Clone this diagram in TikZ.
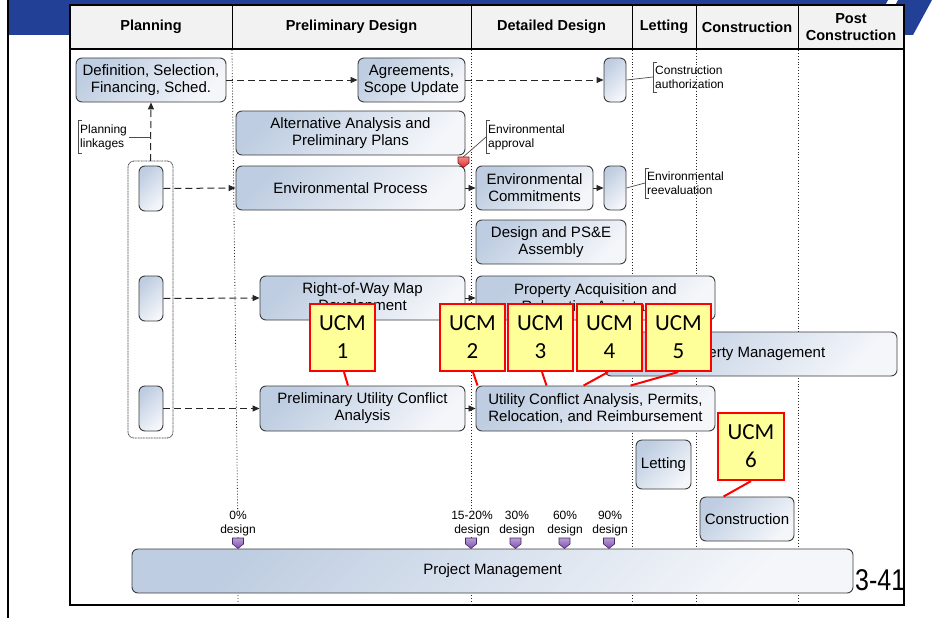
\documentclass[tikz,border=0pt]{standalone}
\usepackage{fontspec}
\setmainfont{Liberation Sans}
\newfontfamily\ucmfont{Carlito}
\usetikzlibrary{arrows.meta}
\definecolor{bandblue}{RGB}{33,64,150}
\definecolor{boxA}{RGB}{190,205,225}
\definecolor{boxB}{RGB}{244,246,250}
\definecolor{hdr}{RGB}{242,242,242}
\definecolor{ucmfill}{RGB}{255,255,153}
\definecolor{bord}{RGB}{60,60,60}
\definecolor{mpurple}{RGB}{128,78,178}
\definecolor{mred}{RGB}{230,40,40}
\newcommand\mybrk[1]{\draw[brk] ([xshift=4pt]#1.north west) -- (#1.north west) -- (#1.south west) -- ([xshift=4pt]#1.south west);}
\begin{document}
\begin{tikzpicture}[x=1pt,y=-1pt,
  sz/.style 2 args={minimum width=#1pt, minimum height=#2pt},
  box/.style={draw=bord, line width=0.9pt, rounded corners=6pt, top color=boxA, bottom color=boxB, shading angle=45, align=center, font=\fontsize{15}{17}\selectfont, inner sep=0pt},
  hdrtxt/.style={font=\bfseries\fontsize{14.5}{17}\selectfont, align=center, inner sep=0pt},
  dotl/.style={black!85, line width=0.8pt, dash pattern=on 0.9pt off 2pt},
  dasharr/.style={black!85, line width=1pt, dash pattern=on 7pt off 4pt, -{Triangle[length=7pt,width=6pt]}},
  solarr/.style={black!85, line width=0.8pt, -{Triangle[length=7pt,width=6pt]}},
  lbl/.style={font=\fontsize{12}{14}\selectfont, align=left, anchor=west, inner xsep=2pt, inner ysep=3.5pt},
  brk/.style={draw=black!70, line width=0.7pt},
  thinl/.style={draw=black!70, line width=0.7pt},
  mlab/.style={font=\fontsize{12}{14}\selectfont, align=center, fill=white, inner sep=1pt},
  ucm/.style={draw=red, line width=2.2pt, fill=ucmfill, minimum width=65pt, minimum height=67pt, font=\ucmfont\fontsize{23}{28}\selectfont, align=center, inner sep=0pt},
  ucml/.style={draw=red, line width=2pt},
  pics/mstone/.style={code={\path[draw=#1!55!black, line width=0.6pt, top color=#1!55!white, bottom color=#1] (-5.5,-5) -- (5.5,-5) -- (5.5,1) -- (0,5.5) -- (-5.5,1) -- cycle;}}
]
\useasboundingbox (0,0) rectangle (952,618);
% background band
\fill[bandblue] (9,0) -- (888,0) -- (870,35) -- (9,35) -- cycle;
\fill[bandblue] (898,0) -- (932,0) -- (913,35) -- (880,35) -- cycle;
\draw[line width=2pt] (8,0) -- (8,618);
% table
\fill[white] (70,5) rectangle (904,605);
\fill[hdr] (70,5) rectangle (904,49);
\foreach \x in {232,471,632,696,798} \draw[line width=1pt] (\x,5) -- (\x,49);
\draw[line width=1.2pt] (70,49) -- (904,49);
\draw[line width=1.3pt] (70,5) rectangle (904,605);
\node[hdrtxt] (h1) at (151,27) {Planning};
\node[hdrtxt] (h2) at (351.5,27) {Preliminary Design};
\node[hdrtxt] (h3) at (551.5,27) {Detailed Design};
\node[hdrtxt] (h4) at (664,27) {Letting};
\node[hdrtxt] (h5) at (747,27) {Construction};
\node[hdrtxt] (h6) at (851,27) {Post\\Construction};
% dotted phase lines
\draw[dotl] (232,50) -- (238,540) -- (238,604);
\foreach \x in {471,632,696,798} \draw[dotl] (\x,50) -- (\x,604);
% planning container
\draw[black!75, line width=0.8pt, dash pattern=on 1pt off 0.6pt, rounded corners=6pt] (128,161) rectangle (173,438);
\coordinate (contn) at (150.5,161);
% boxes
\node[box, sz={150}{44}] (def) at (151,80) {Definition, Selection,\\Financing, Sched.};
\node[box, sz={107}{44}] (agr) at (411.5,80) {Agreements,\\Scope Update};
\node[box, sz={22}{44}] (cbox) at (615,80) {};
\node[box, sz={229}{44}] (alt) at (350.5,133) {Alternative Analysis and\\Preliminary Plans};
\node[box, sz={229}{44}] (env) at (350.5,188) {Environmental Process};
\node[box, sz={117}{44}] (envc) at (534.5,188) {Environmental\\Commitments};
\node[box, sz={22}{44}] (ebox) at (615,188) {};
\node[box, sz={150}{44}] (dps) at (551,242) {Design and PS\&E\\Assembly};
\node[box, sz={205}{44}] (row) at (362.5,298) {Right-of-Way Map\\Development};
\node[box, sz={239}{44}] (pacq) at (595.5,298) {Property Acquisition and\\Relocation Assistance};
\node[box, sz={292}{44}] (pmg) at (751,354) {Property Management};
\node[box, sz={24}{45}] (pl1) at (151,188.5) {};
\node[box, sz={24}{45}] (pl2) at (151,298.5) {};
\node[box, sz={24}{45}] (pl3) at (151,408.5) {};
\node[box, sz={205}{45}] (puca) at (362.5,408.5) {Preliminary Utility Conflict\\Analysis};
\node[box, sz={239}{45}] (uca) at (595.5,408.5) {Utility Conflict Analysis, Permits,\\Relocation, and Reimbursement};
\node[box, sz={55}{49}] (let) at (663.5,464.5) {Letting};
\node[box, sz={94}{44}] (con) at (747,519) {Construction};
\node[box, sz={721}{44}] (pm) at (492.5,571) {Project Management};
% labels with brackets
\node[lbl] (ca) at (653,77) {Construction\\authorization};
\mybrk{ca}
\node[lbl] (ea) at (486,137) {Environmental\\approval};
\mybrk{ea}
\node[lbl] (ev) at (645,183) {Environmental\\reevaluation};
\mybrk{ev}
\node[lbl] (plk) at (78,137) {Planning\\linkages};
\mybrk{plk}
% connectors
\draw[dasharr] (def.east) -- (agr.west);
\draw[dasharr] (agr.east) -- (cbox.west);
\draw[dasharr] (contn) -- (def.south);
\draw[dasharr] (pl1.east) -- (env.west);
\draw[dasharr] (pl2.east) -- (row.west);
\draw[dasharr] (pl3.east) -- (puca.west);
\draw[solarr] (env.east) -- (envc.west);
\draw[solarr] (envc.east) -- (ebox.west);
\draw[solarr] (row.east) -- (pacq.west);
\draw[solarr] (puca.east) -- (uca.west);
\draw[thinl] (cbox.east) -- (ca.west);
\draw[thinl] (ebox.east) -- (ev.west);
\draw[thinl] (plk.east) -- (plk.east -| contn);
\coordinate (redm) at (462,158);
\draw[thinl] (redm) -- (ea.west);
\pic at (463.5,162) {mstone=mred};
% milestones
\node[mlab] (m0) at (238,524) {0\%\\design};
\node[mlab] (m1) at (472,524) {15-20\%\\design};
\node[mlab] (m2) at (517,524) {30\%\\design};
\node[mlab] (m3) at (565,524) {60\%\\design};
\node[mlab] (m4) at (610,524) {90\%\\design};
\pic at (238,543) {mstone=mpurple};
\pic at (471,543) {mstone=mpurple};
\pic at (515.5,543) {mstone=mpurple};
\pic at (564.5,543) {mstone=mpurple};
\pic at (609,543) {mstone=mpurple};
% page number
\node[font=\fontsize{25}{28}\selectfont, inner sep=0pt, anchor=base west] (pg) at (855,590) {\scalebox{1}[1.2]{3-41}};
% UCM callouts
\node[ucm] (u1) at (342.5,337.5) {UCM\\1};
\node[ucm] (u2) at (472.5,337.5) {UCM\\2};
\node[ucm] (u3) at (540.5,337.5) {UCM\\3};
\node[ucm] (u4) at (609.5,337.5) {UCM\\4};
\node[ucm] (u5) at (678.5,337.5) {UCM\\5};
\node[ucm, minimum width=66pt] (u6) at (751,446.5) {UCM\\6};
\draw[ucml] ([xshift=1.5pt]u1.south) -- ([xshift=-14.5pt]puca.north);
\draw[ucml] ([xshift=0.5pt]u2.south) -- ([xshift=2pt]uca.north west);
\draw[ucml] ([xshift=1.5pt]u3.south) -- ([xshift=71pt]uca.north west);
\draw[ucml] ([xshift=-1.5pt]u4.south) -- ([xshift=108pt]uca.north west);
\draw[ucml] ([xshift=-0.5pt]u5.south) -- ([xshift=155pt]uca.north west);
\draw[ucml] (u6.south) -- ([xshift=24pt]con.north west);
\end{tikzpicture}
\end{document}
